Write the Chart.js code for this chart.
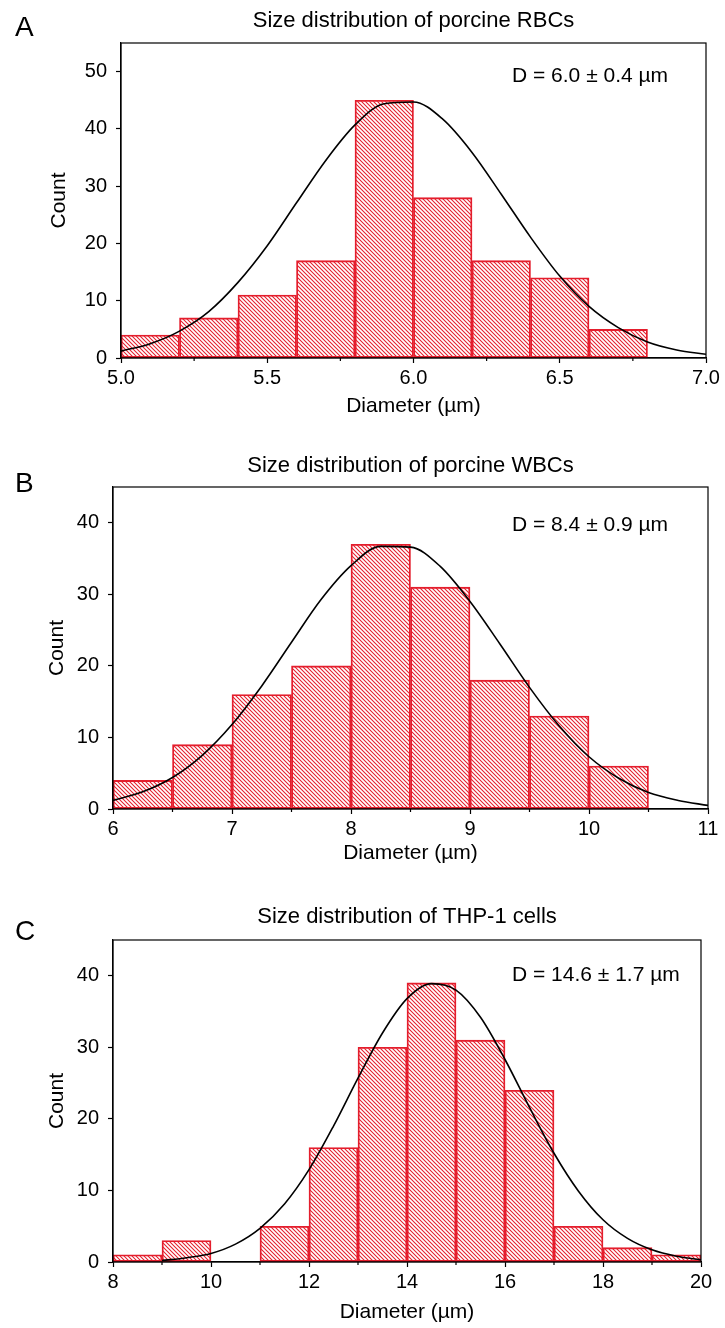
<!DOCTYPE html>
<html>
<head>
<meta charset="utf-8">
<script src="https://cdn.jsdelivr.net/npm/chart.js@4.4.1/dist/chart.umd.min.js"></script>
<style>
  html, body { margin: 0; padding: 0; background: #fff; }
  body { width: 725px; height: 1328px; position: relative; overflow: hidden; }
  .panel { position: absolute; left: 0; width: 725px; }
</style>
</head>
<body>
<div class="panel" style="top:0;height:430px"><canvas id="chartA"></canvas></div>
<div class="panel" style="top:440px;height:430px"><canvas id="chartB"></canvas></div>
<div class="panel" style="top:880px;height:448px"><canvas id="chartC"></canvas></div>
<script>
// A - porcine RBCs (bin width 0.2 um)
var rbcBins   = [5.1, 5.3, 5.5, 5.7, 5.9, 6.1, 6.3, 6.5, 6.7];
var rbcCounts = [4, 7, 11, 17, 45, 28, 17, 14, 5];
var rbcFitX = [5.0, 5.1, 5.2, 5.3, 5.4, 5.5, 5.6, 5.7, 5.8, 5.9, 6.0, 6.1, 6.2, 6.3, 6.4, 6.5, 6.6, 6.7, 6.8, 6.9, 7.0];
var rbcFitY = [1.2, 2.5, 4.7, 8.1, 13.2, 19.6, 27.1, 34.5, 40.7, 44.4, 44.7, 41.7, 35.9, 28.6, 21.1, 14.3, 9.0, 5.3, 2.8, 1.4, 0.65];
var rbcXTicks  = [5.0, 5.5, 6.0, 6.5, 7.0];
var rbcXLabels = ['5.0', '5.5', '6.0', '6.5', '7.0'];
var rbcXMinor  = [5.25, 5.75, 6.25, 6.75];
var rbcYTicks  = [0, 10, 20, 30, 40, 50];

// B - porcine WBCs (bin width 0.5 um)
var wbcBins   = [6.25, 6.75, 7.25, 7.75, 8.25, 8.75, 9.25, 9.75, 10.25];
var wbcCounts = [4, 9, 16, 20, 37, 31, 18, 13, 6];
var wbcFitX = [6.0, 6.25, 6.5, 6.75, 7.0, 7.25, 7.5, 7.75, 8.0, 8.25, 8.5, 8.75, 9.0, 9.25, 9.5, 9.75, 10.0, 10.25, 10.5, 10.75, 11.0];
var wbcFitY = [1.2, 2.4, 4.4, 7.5, 11.8, 17.2, 23.3, 29.3, 34.0, 36.7, 36.6, 33.9, 29.0, 23.1, 17.0, 11.6, 7.3, 4.3, 2.3, 1.2, 0.5];
var wbcXTicks  = [6, 7, 8, 9, 10, 11];
var wbcXLabels = ['6', '7', '8', '9', '10', '11'];
var wbcXMinor  = [6.5, 7.5, 8.5, 9.5, 10.5];
var wbcYTicks  = [0, 10, 20, 30, 40];

// C - THP-1 cells (bin width 1 um)
var thpBins   = [8.5, 9.5, 10.5, 11.5, 12.5, 13.5, 14.5, 15.5, 16.5, 17.5, 18.5, 19.5];
var thpCounts = [1, 3, 0, 5, 16, 30, 39, 31, 24, 5, 2, 1];
var thpFitX = [9.0, 9.5, 10.0, 10.5, 11.0, 11.5, 12.0, 12.5, 13.0, 13.5, 14.0, 14.5, 15.0, 15.5, 16.0, 16.5, 17.0, 17.5, 18.0, 18.5, 19.0, 19.5, 20.0];
var thpFitY = [0.2, 0.6, 1.2, 2.5, 4.7, 8.1, 12.9, 19.0, 25.7, 32.0, 36.8, 38.9, 38.0, 34.2, 28.3, 21.6, 15.2, 9.9, 5.9, 3.3, 1.7, 0.8, 0.3];
var thpXTicks  = [8, 10, 12, 14, 16, 18, 20];
var thpXLabels = ['8', '10', '12', '14', '16', '18', '20'];
var thpXMinor  = [9, 11, 13, 15, 17, 19];
var thpYTicks  = [0, 10, 20, 30, 40];

var FONT = '"Liberation Sans", Arial, Helvetica, sans-serif';
var RED = 'rgb(228, 30, 45)';

Chart.defaults.font.family = FONT;
Chart.defaults.color = '#000';

function hatch(color) {
  var s = 4;
  var c = document.createElement('canvas');
  c.width = s; c.height = s;
  var g = c.getContext('2d');
  g.strokeStyle = color;
  g.lineWidth = 1.05;
  g.beginPath();
  g.moveTo(0, 0); g.lineTo(s, s);
  g.moveTo(-1, s - 1); g.lineTo(1, s + 1);
  g.moveTo(s - 1, -1); g.lineTo(s + 1, 1);
  g.stroke();
  return g.createPattern(c, 'repeat');
}

// box, minor ticks, title, panel letter and the D = ... note
var framePlugin = {
  id: 'frame',
  afterDraw: function (chart, args, o) {
    var ctx = chart.ctx, a = chart.chartArea, xs = chart.scales.x;
    ctx.save();
    ctx.strokeStyle = '#000';
    ctx.lineWidth = 1.2;
    ctx.strokeRect(a.left, a.top, a.right - a.left, a.bottom - a.top);
    ctx.beginPath();
    o.minor.forEach(function (v) {
      var px = xs.getPixelForValue(v);
      ctx.moveTo(px, a.bottom);
      ctx.lineTo(px, a.bottom + 3);
    });
    ctx.stroke();
    ctx.fillStyle = '#000';
    ctx.textBaseline = 'middle';
    ctx.textAlign = 'center';
    ctx.font = '22px ' + FONT;
    ctx.fillText(o.title, (a.left + a.right) / 2, o.titleY);
    ctx.textAlign = 'left';
    ctx.font = '28px ' + FONT;
    ctx.fillText(o.letter, 15, o.letterY);
    ctx.font = '21px ' + FONT;
    ctx.fillText(o.note, o.noteX, o.noteY);
    ctx.restore();
  }
};

function panel(id, p) {
  var points = p.bins.map(function (x, i) { return { x: x, y: p.counts[i] }; });
  var fit = p.fitX.map(function (x, i) { return { x: x, y: p.fitY[i] }; });
  return new Chart(document.getElementById(id), {
    type: 'bar',
    data: {
      datasets: [
        {
          type: 'line',
          data: fit,
          borderColor: '#000',
          borderWidth: 1.6,
          pointRadius: 0,
          cubicInterpolationMode: 'monotone',
          fill: false,
          order: 0
        },
        {
          data: points,
          backgroundColor: hatch(RED),
          borderColor: RED,
          borderWidth: 1.2,
          borderSkipped: false,
          barPercentage: 1,
          categoryPercentage: 1,
          order: 1
        }
      ]
    },
    options: {
      responsive: true,
      maintainAspectRatio: false,
      animation: false,
      layout: { padding: { top: p.top, right: p.right, left: 0, bottom: 0 } },
      plugins: {
        legend: { display: false },
        tooltip: { enabled: false },
        frame: {
          minor: p.minor, title: p.title, titleY: p.titleY,
          letter: p.letter, letterY: p.letterY,
          note: p.note, noteX: 512, noteY: p.noteY
        }
      },
      scales: {
        x: {
          type: 'linear',
          min: p.xMin, max: p.xMax,
          offset: false,
          afterBuildTicks: function (s) { s.ticks = p.xTicks.map(function (v) { return { value: v }; }); },
          afterFit: function (s) { s.height = p.xHeight; },
          ticks: {
            autoSkip: false, maxRotation: 0, padding: 3,
            font: { size: 20 },
            callback: function (v, i) { return p.xLabels[i]; }
          },
          grid: { drawOnChartArea: false, tickLength: 5, tickColor: '#000', tickWidth: 1.2, offset: false },
          border: { color: '#000', width: 1.2 },
          title: { display: true, text: 'Diameter (µm)', font: { size: 21 }, padding: { top: 0, bottom: p.xTitlePad } }
        },
        y: {
          min: 0, max: p.yMax,
          afterBuildTicks: function (s) { s.ticks = p.yTicks.map(function (v) { return { value: v }; }); },
          afterFit: function (s) { s.width = p.yWidth; },
          ticks: { padding: 9, font: { size: 20 } },
          grid: { drawOnChartArea: false, tickLength: 5, tickColor: '#000', tickWidth: 1.2 },
          border: { color: '#000', width: 1.2 },
          title: { display: true, text: 'Count', font: { size: 21 }, padding: { top: p.yTitlePad, bottom: 0 } }
        }
      }
    },
    plugins: [framePlugin]
  });
}

panel('chartA', {
  bins: rbcBins, counts: rbcCounts, fitX: rbcFitX, fitY: rbcFitY,
  xTicks: rbcXTicks, xLabels: rbcXLabels, minor: rbcXMinor, yTicks: rbcYTicks,
  xMin: 5, xMax: 7, yMax: 55,
  top: 43, right: 19, yWidth: 121, xHeight: 72, xTitlePad: 11, yTitlePad: 47,
  title: 'Size distribution of porcine RBCs', titleY: 21,
  letter: 'A', letterY: 28, note: 'D = 6.0 ± 0.4 µm', noteY: 76
});

panel('chartB', {
  bins: wbcBins, counts: wbcCounts, fitX: wbcFitX, fitY: wbcFitY,
  xTicks: wbcXTicks, xLabels: wbcXLabels, minor: wbcXMinor, yTicks: wbcYTicks,
  xMin: 6, xMax: 11, yMax: 45,
  top: 47, right: 17, yWidth: 113, xHeight: 61, xTitlePad: 4, yTitlePad: 45,
  title: 'Size distribution of porcine WBCs', titleY: 26,
  letter: 'B', letterY: 44, note: 'D = 8.4 ± 0.9 µm', noteY: 85
});

panel('chartC', {
  bins: thpBins, counts: thpCounts, fitX: thpFitX, fitY: thpFitY,
  xTicks: thpXTicks, xLabels: thpXLabels, minor: thpXMinor, yTicks: thpYTicks,
  xMin: 8, xMax: 20, yMax: 45,
  top: 60, right: 24, yWidth: 113, xHeight: 66, xTitlePad: 3, yTitlePad: 45,
  title: 'Size distribution of THP-1 cells', titleY: 37,
  letter: 'C', letterY: 52, note: 'D = 14.6 ± 1.7 µm', noteY: 95
});
</script>
</body>
</html>
